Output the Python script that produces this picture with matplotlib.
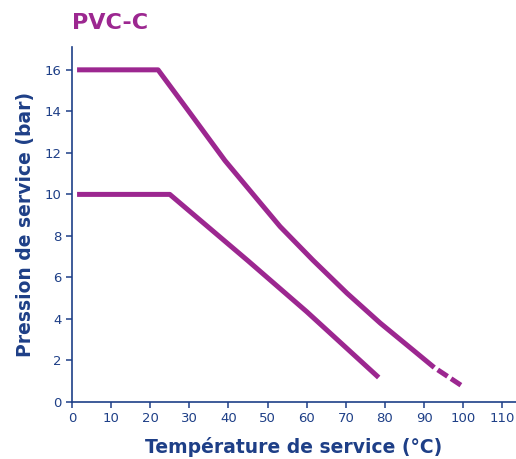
import matplotlib
matplotlib.use("Agg")
from matplotlib import pyplot as plt

plt.rcParams['font.family'] = ['DejaVu Sans']
plt.rcParams['lines.scale_dashes'] = False

purple = "#9C2790"
navy = "#1E3F87"

# upper curve (solid part, then dashed extension)
temp_16 = [1.3, 22, 29.7, 39.1, 47.6, 53.2, 61.6, 70.3, 78.8, 87.2, 92.6]
press_16 = [16, 16, 14.04, 11.63, 9.71, 8.45, 6.83, 5.24, 3.8, 2.5, 1.66]
temp_16_ext = [92.6, 99.5]
press_16_ext = [1.66, 0.8]

# lower curve
temp_10 = [1.3, 25, 45, 60, 78.4]
press_10 = [10, 10, 6.8, 4.35, 1.18]

x_ticks = list(range(0, 111, 10))
y_ticks = list(range(0, 17, 2))

fig = plt.figure(figsize=(5.16, 4.59), dpi=100)
ax = fig.add_axes([0.1395, 0.1242, 0.8605, 0.7734])

ax.plot(temp_16, press_16, color=purple, lw=3.6, solid_capstyle="butt", solid_joinstyle="round")
ax.plot(temp_16_ext, press_16_ext, color=purple, lw=3.6, dash_capstyle="butt",
        linestyle=(8.5, (8.5, 3.0)))
ax.plot(temp_10, press_10, color=purple, lw=3.6, solid_capstyle="butt", solid_joinstyle="round")

ax.set_xlim(0, 113.5)
ax.set_ylim(0, 17.1)
ax.set_xticks(x_ticks)
ax.set_yticks(y_ticks)

for s in ["top", "right"]:
    ax.spines[s].set_visible(False)
for s in ["left", "bottom"]:
    ax.spines[s].set_color(navy)
    ax.spines[s].set_linewidth(1.2)
ax.tick_params(colors=navy, labelsize=9.5, length=4, width=1.1)

ax.set_xlabel("Température de service (°C)", color=navy, fontsize=13.5, fontweight="bold", labelpad=8)
ax.set_ylabel("Pression de service (bar)", color=navy, fontsize=13.5, fontweight="bold", labelpad=7)
fig.text(0.14, 0.95, "PVC-C", color=purple, fontsize=16, fontweight="bold", va="center", ha="left")

fig.savefig("out.png", dpi=100)
